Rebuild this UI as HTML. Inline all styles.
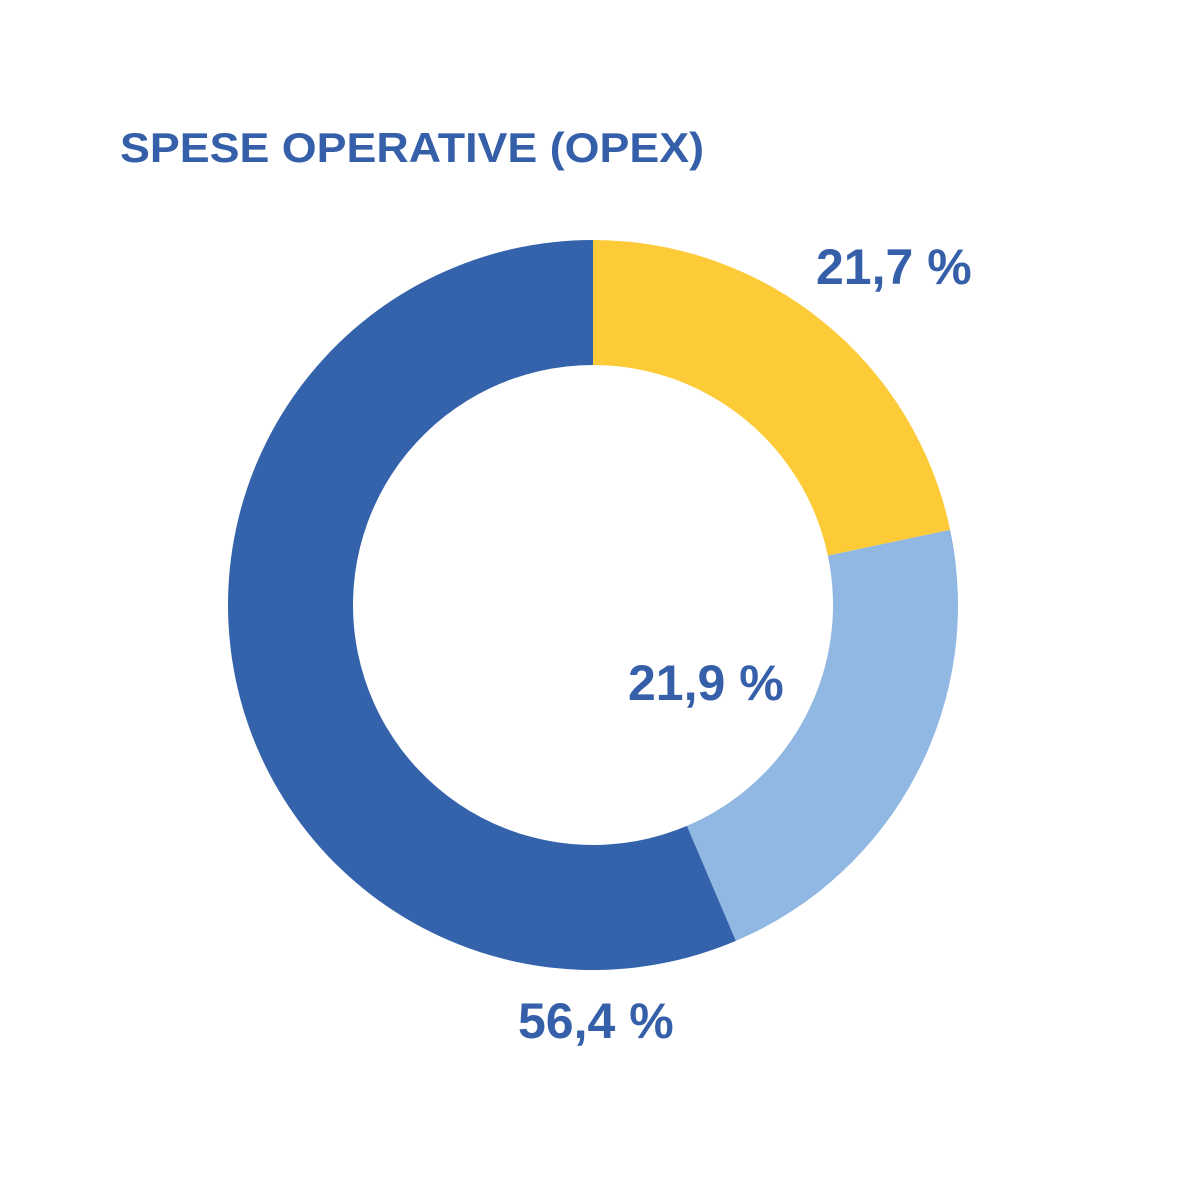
<!DOCTYPE html>
<html><head><meta charset="utf-8"><style>
html,body{margin:0;padding:0;background:#fff;}
svg{display:block;}
text{font-family:"Liberation Sans",Arial,sans-serif;font-weight:bold;fill:#3560a9;}
</style></head><body>
<svg id="chart" width="1200" height="1200" viewBox="0 0 1200 1200">
<rect width="1200" height="1200" fill="#fff"/>
<text x="120" y="162" font-size="42" textLength="584" lengthAdjust="spacingAndGlyphs">SPESE OPERATIVE (OPEX)</text>
<g id="slices"></g>
<g id="labels"></g>
</svg>
<script>
const categories = ["Categoria A", "Categoria B", "Categoria C"];
const values = [21.7, 21.9, 56.4];
const valueLabels = ["21,7 %", "21,9 %", "56,4 %"];
const colors = ["#fdcb37", "#90b8e2", "#3463ac"];
const labelPos = [[816, 284], [628, 700], [518, 1038]];

const cx = 593, cy = 605, R = 365, r = 240;
const total = values.reduce((a, b) => a + b, 0);
function angle(v) { return v / total * 2 * Math.PI; }
function pt(rad, a) { return [cx + rad * Math.sin(a), cy - rad * Math.cos(a)]; }
const NS = "http://www.w3.org/2000/svg";
const g = document.getElementById("slices");
const lg = document.getElementById("labels");
let acc = 0;
values.forEach((v, i) => {
  const a0 = angle(acc), a1 = angle(acc + v);
  acc += v;
  const large = (a1 - a0) > Math.PI ? 1 : 0;
  const p0 = pt(R, a0), p1 = pt(R, a1), q1 = pt(r, a1), q0 = pt(r, a0);
  const d = `M${p0[0]},${p0[1]} A${R},${R} 0 ${large} 1 ${p1[0]},${p1[1]} L${q1[0]},${q1[1]} A${r},${r} 0 ${large} 0 ${q0[0]},${q0[1]} Z`;
  const path = document.createElementNS(NS, "path");
  path.setAttribute("d", d);
  path.setAttribute("fill", colors[i]);
  
  
  g.appendChild(path);
  const t = document.createElementNS(NS, "text");
  t.setAttribute("x", labelPos[i][0]);
  t.setAttribute("y", labelPos[i][1]);
  t.setAttribute("font-size", "50");
  t.textContent = valueLabels[i];
  
  
  lg.appendChild(t);
});
</script>
</body></html>
